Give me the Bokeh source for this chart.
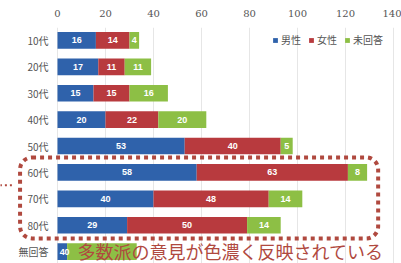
from bokeh.plotting import figure
from bokeh.models import ColumnDataSource, Range1d, FixedTicker, BoxAnnotation, Label
from bokeh.core.properties import value
from bokeh.embed import file_html
from bokeh.resources import INLINE

ages = ["10代", "20代", "30代", "40代", "50代", "60代", "70代", "80代", "無回答"]
male = [16, 17, 15, 20, 53, 58, 40, 29, 4]
female = [14, 11, 15, 22, 40, 63, 48, 50, 0]
noans = [4, 11, 16, 20, 5, 8, 14, 14, 29]
series = ["男性", "女性", "未回答"]
colors = ["#2f62ab", "#b83a3e", "#8dbf45"]
ticks = [0, 20, 40, 60, 80, 100, 120, 140]
note = "多数派の意見が色濃く反映されている"
accent = "#b0493f"

ys = list(range(len(ages)))
src = ColumnDataSource({"y": ys, "age": ages, series[0]: male, series[1]: female, series[2]: noans})

p = figure(width=401, height=263, x_range=Range1d(-23.75, 143.33), y_range=Range1d(8.45, -0.49),
           x_axis_location="above", y_axis_location=None,
           output_backend="svg", toolbar_location=None,
           min_border_left=0, min_border_right=0, min_border_top=27, min_border_bottom=0)
p.outline_line_color = None
p.ygrid.visible = False
p.xgrid.ticker = FixedTicker(ticks=ticks)
p.xgrid.grid_line_color = "#e6e6e6"
ax = p.xaxis[0]
ax.ticker = FixedTicker(ticks=ticks)
ax.axis_line_color = None
ax.major_tick_line_color = None
ax.minor_tick_line_color = None
ax.major_label_text_font_size = "10px"
ax.major_label_text_color = "#555555"
ax.major_label_text_font = "DejaVu Serif"
ax.major_label_standoff = 5

p.hbar_stack(series, y="y", height=0.63, fill_color=colors, line_color=None, source=src,
             legend_label=series)

# segment labels
lx, ly, lt = [], [], []
for i in ys:
    vals = [male[i], female[i], noans[i]]
    start = 0
    for k, v in enumerate(vals):
        if not (ages[i] == "無回答" and k == 2):
            lx.append(start + v / 2)
            ly.append(i)
            lt.append(str(v))
        start += v
p.text(x=lx, y=ly, text=lt, text_color="white", text_font=value("Liberation Sans"),
       text_font_style="bold", text_font_size="9px", text_align="center", text_baseline="middle")

# category labels
p.text(x=[-3.75] * len(ages), y=ys, text=ages, text_color="#555555",
       text_font=value("Noto Sans CJK JP"), text_font_size="10px",
       text_align="right", text_baseline="middle")

# dotted rounded box
box = BoxAnnotation(left=-15.6, right=133.6, top=4.43, bottom=7.5, border_radius=12,
                    fill_color=None, fill_alpha=0, line_color=accent, line_alpha=1,
                    line_width=4, line_dash="4 4")
p.add_layout(box)
p.line(x=[-24, -18.5], y=[5.49, 5.49], line_color=accent, line_width=2, line_dash="2 3")

p.add_layout(Label(x=8.3, y=7.99, text=note, text_color=accent, text_font="Noto Sans CJK JP",
                   text_font_size="18px", text_align="left", text_baseline="middle"))

lg = p.legend[0]
lg.orientation = "horizontal"
lg.location = (272, 216)
lg.glyph_width = 6
lg.glyph_height = 6
lg.label_text_font = "Noto Sans CJK JP"
lg.label_text_font_size = "10px"
lg.label_text_color = "#555555"
lg.label_standoff = 3
lg.spacing = 7
lg.padding = 0
lg.margin = 0
lg.border_line_color = None
lg.background_fill_alpha = 0

open("out.html", "w").write(file_html(p, INLINE))
